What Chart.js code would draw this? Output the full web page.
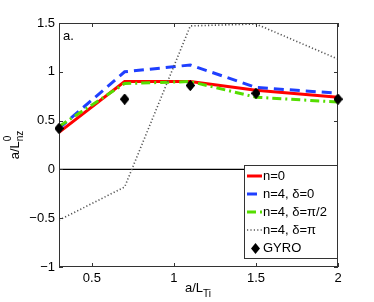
<!DOCTYPE html>
<html>
<head>
<meta charset="utf-8">
<script src="https://cdn.jsdelivr.net/npm/chart.js@4"></script>
<style>
  html, body { margin: 0; padding: 0; background: #fff; }
  #wrap { width: 374px; height: 302px; }
</style>
</head>
<body>
<div id="wrap"><canvas id="c" width="374" height="302"></canvas></div>
<script>
// values
const xVals = [0.3, 0.7, 1.1, 1.5, 2.0];
const n0 = [0.38, 0.90, 0.90, 0.81, 0.74];
const n4d0 = [0.42, 1.00, 1.07, 0.84, 0.78];
const n4dHalfPi = [0.44, 0.88, 0.90, 0.74, 0.69];
const n4dPi = [-0.52, -0.18, 1.47, 1.49, 1.13];
const gyro = [0.42, 0.72, 0.86, 0.78, 0.72];
const xTicks = [0.5, 1, 1.5, 2];
const yTicks = [-1, -0.5, 0, 0.5, 1, 1.5];
const legendLabels = ['n=0', 'n=4, δ=0', 'n=4, δ=π/2', 'n=4, δ=π', 'GYRO'];

const FONT = '13px "Liberation Sans", Arial, sans-serif';

function pts(ys) {
    return xVals.map((x, i) => ({ x: x, y: ys[i] }));
}

// tall diamond marker like the matlab one
function diamond(w, h) {
    const c = document.createElement('canvas');
    c.width = w; c.height = h;
    const g = c.getContext('2d');
    g.fillStyle = '#000';
    g.beginPath();
    g.moveTo(w / 2, 0); g.lineTo(w, h / 2);
    g.lineTo(w / 2, h); g.lineTo(0, h / 2);
    g.closePath();
    g.fill();
    return c;
}
const diamondImg = diamond(9, 11);

const series = [
    { data: n0, color: '#ff0000', width: 3, dash: [] },
    { data: n4d0, color: '#1f3fff', width: 3, dash: [10, 6] },
    { data: n4dHalfPi, color: '#55dd00', width: 3, dash: [9, 4, 2, 4] },
    { data: n4dPi, color: '#555555', width: 1.6, dash: [1.2, 2.2] }
];

const datasets = series.map((s, i) => ({
    label: legendLabels[i],
    data: pts(s.data),
    showLine: true,
    borderColor: s.color,
    borderWidth: s.width,
    borderDash: s.dash,
    pointRadius: 0,
    fill: false,
    tension: 0,
    order: 5 - i
}));
datasets.push({
    label: legendLabels[4],
    data: pts(gyro),
    showLine: false,
    pointStyle: diamondImg,
    pointRadius: 5,
    backgroundColor: '#000',
    borderColor: '#000',
    borderWidth: 0,
    clip: false,
    order: 0
});

// frame, inward ticks, zero line, legend, titles
const decor = {
    id: 'decor',
    beforeDatasetsDraw(chart) {
        const ctx = chart.ctx, a = chart.chartArea, ys = chart.scales.y;
        const y0 = ys.getPixelForValue(0);
        ctx.save();
        ctx.strokeStyle = '#000';
        ctx.lineWidth = 1.2;
        ctx.beginPath();
        ctx.moveTo(a.left, y0);
        ctx.lineTo(a.right, y0);
        ctx.stroke();
        ctx.restore();
    },
    afterDraw(chart) {
        const ctx = chart.ctx, a = chart.chartArea;
        const xs = chart.scales.x, ys = chart.scales.y;
        ctx.save();
        ctx.strokeStyle = '#333';
        ctx.lineWidth = 1;
        ctx.strokeRect(a.left + 0.5, a.top + 0.5, a.right - a.left - 1, a.bottom - a.top - 1);
        ctx.beginPath();
        xTicks.forEach(v => {
            const px = Math.round(xs.getPixelForValue(v)) + 0.5;
            ctx.moveTo(px, a.bottom); ctx.lineTo(px, a.bottom - 4);
            ctx.moveTo(px, a.top); ctx.lineTo(px, a.top + 4);
        });
        yTicks.forEach(v => {
            const py = Math.round(ys.getPixelForValue(v)) + 0.5;
            ctx.moveTo(a.left, py); ctx.lineTo(a.left + 4, py);
            ctx.moveTo(a.right, py); ctx.lineTo(a.right - 4, py);
        });
        ctx.stroke();

        // redraw the gyro markers over the frame
        const meta = chart.getDatasetMeta(4);
        meta.data.forEach(p => ctx.drawImage(diamondImg, p.x - 4.5, p.y - 5.5));

        // panel label
        ctx.fillStyle = '#000';
        ctx.font = FONT;
        ctx.textBaseline = 'middle';
        ctx.textAlign = 'left';
        ctx.fillText('a.', a.left + 4, 36);

        // legend
        const lx = 244, ly = 165, lw = a.right - 244, lh = 94;
        ctx.fillStyle = '#fff';
        ctx.fillRect(lx, ly, lw, lh);
        ctx.strokeStyle = '#333';
        ctx.strokeRect(lx + 0.5, ly + 0.5, lw - 1, lh - 1);
        legendLabels.forEach((lab, i) => {
            const yy = 176 + i * 18;
            if (i < 4) {
                const s = series[i];
                ctx.strokeStyle = s.color;
                ctx.lineWidth = s.width;
                ctx.setLineDash(s.dash);
                ctx.beginPath();
                ctx.moveTo(247, yy);
                ctx.lineTo(262, yy);
                ctx.stroke();
                ctx.setLineDash([]);
            } else {
                ctx.drawImage(diamondImg, 251, yy - 5);
            }
            ctx.fillStyle = '#000';
            ctx.font = FONT;
            ctx.fillText(lab, 263, yy);
        });

        // x title: a/L_Ti
        const small = '10px "Liberation Sans", Arial, sans-serif';
        ctx.font = FONT;
        ctx.textBaseline = 'alphabetic';
        const w1 = ctx.measureText('a/L').width;
        ctx.font = small;
        const w2 = ctx.measureText('Ti').width;
        let sx = 198 - (w1 + w2) / 2;
        ctx.font = FONT;
        ctx.fillText('a/L', sx, 292);
        ctx.font = small;
        ctx.fillText('Ti', sx + w1, 297);

        // y title: a/L^0_nz rotated
        ctx.translate(14, 145);
        ctx.rotate(-Math.PI / 2);
        ctx.font = FONT;
        const v1 = ctx.measureText('a/L').width;
        ctx.font = small;
        const v2 = ctx.measureText('nz').width;
        let sy = -(v1 + v2) / 2;
        ctx.font = FONT;
        ctx.fillText('a/L', sy, 5);
        ctx.font = small;
        ctx.fillText('0', sy + v1, -3);
        ctx.fillText('nz', sy + v1, 9);
        ctx.restore();
    }
};

new Chart(document.getElementById('c'), {
    type: 'scatter',
    data: { datasets: datasets },
    options: {
        responsive: false,
        animation: false,
        layout: { padding: { top: 23, right: 36, left: 0, bottom: 0 } },
        plugins: { legend: { display: false }, tooltip: { enabled: false } },
        scales: {
            x: {
                type: 'linear', min: 0.3, max: 2,
                grid: { display: false, drawTicks: false },
                border: { display: false },
                afterBuildTicks: s => { s.ticks = xTicks.map(v => ({ value: v })); },
                afterFit: s => { s.height = 35; },
                ticks: {
                    color: '#000', padding: 4,
                    font: { family: '"Liberation Sans", Arial, sans-serif', size: 13 },
                    callback: v => String(v)
                }
            },
            y: {
                type: 'linear', min: -1, max: 1.5,
                grid: { display: false, drawTicks: false },
                border: { display: false },
                afterBuildTicks: s => { s.ticks = yTicks.map(v => ({ value: v })); },
                afterFit: s => { s.width = 59; },
                ticks: {
                    color: '#000', padding: 4,
                    font: { family: '"Liberation Sans", Arial, sans-serif', size: 13 },
                    callback: v => (v < 0 ? '\u2212' + Math.abs(v) : String(v))
                }
            }
        }
    },
    plugins: [decor]
});
</script>
</body>
</html>
